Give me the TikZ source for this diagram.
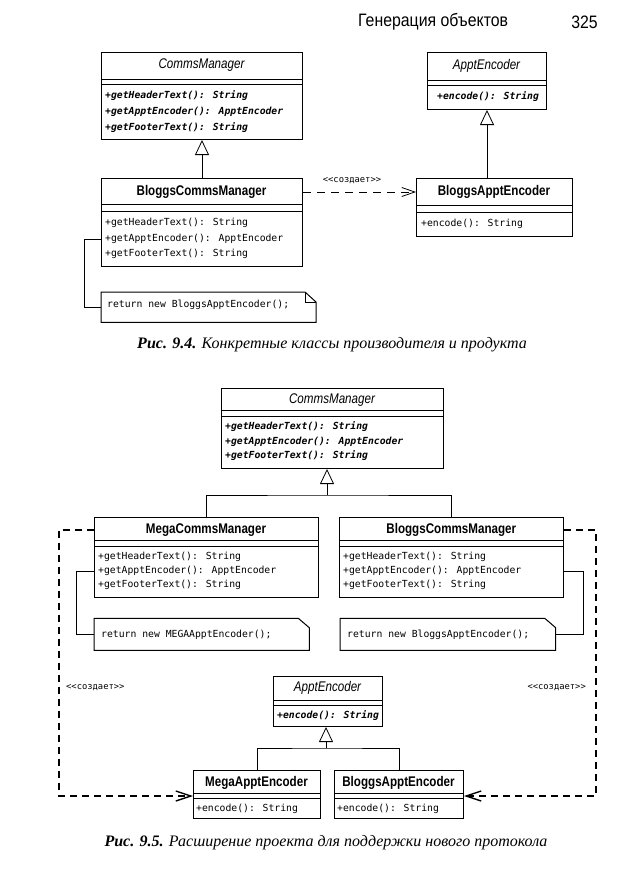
\documentclass[tikz,border=0pt]{standalone}
\usepackage{fontspec}
\setmainfont{Liberation Serif}
\newfontfamily\clsfont[FakeStretch=0.83]{Liberation Sans}
\newfontfamily\hdrfont[FakeStretch=0.88]{Liberation Sans}
\newfontfamily\codefont[Ligatures=TeXOff]{DejaVu Sans Mono}
\usetikzlibrary{arrows.meta}

\begin{document}
\begin{tikzpicture}[x=1pt,y=-1pt,
    clsbox/.style={draw,line width=1pt,inner sep=0pt,anchor=north west},
    notebox/.style={inner sep=0pt,anchor=north west},
    divline/.style={line width=1pt},
    cname/.style={inner sep=0pt,font=\clsfont\fontsize{14}{14}\selectfont\bfseries},
    aname/.style={inner sep=0pt,font=\clsfont\fontsize{14}{14}\selectfont\itshape},
    meth/.style={anchor=west,inner sep=0pt,font=\codefont\fontsize{9.75}{10}\selectfont},
    ameth/.style={meth,font=\codefont\fontsize{9.75}{10}\selectfont\bfseries\itshape},
    stereo/.style={inner sep=0pt,font=\codefont\fontsize{8.8}{9}\selectfont},
    inh/.style={line width=0.8pt,-{Triangle[open,length=15pt,width=14pt]}},
    dep/.style={line width=0.8pt,dash pattern=on 8pt off 6pt,-{Straight Barb[length=13pt,width=9pt]}},
    dep2/.style={line width=1.4pt,dash pattern=on 7pt off 5pt,-{Straight Barb[length=15pt,width=10pt]}},
    capt/.style={inner sep=0pt,font=\itshape\fontsize{16}{16}\selectfont}]
    \useasboundingbox (0,0) rectangle (639,891);
    \node[anchor=west,inner sep=0pt,font=\hdrfont\fontsize{18}{18}\selectfont] (pgtitle) at (358,22) {Генерация объектов};
    \node[anchor=east,inner sep=0pt,font=\hdrfont\fontsize{18}{18}\selectfont] (pgnum) at (598,22) {325};

    \node[clsbox,minimum width=201pt,minimum height=87pt] (cm) at (101,52) {};
    \draw[divline] (cm.north west) ++(0,27) -- ++(201,0) ++(-201,5) -- ++(201,0);
    \node[aname] (cmname) at (201.5,65.5) {CommsManager};
    \node[ameth] (cmm1) at (105,96) {+getHeaderText(): String};
    \node[ameth] (cmm2) at (105,112) {+getApptEncoder(): ApptEncoder};
    \node[ameth] (cmm3) at (105,128) {+getFooterText(): String};

    \node[clsbox,minimum width=119pt,minimum height=57pt] (ae) at (427,52) {};
    \draw[divline] (ae.north west) ++(0,28) -- ++(119,0) ++(-119,5) -- ++(119,0);
    \node[aname] (aename) at (486.5,66) {ApptEncoder};
    \node[ameth] (aem1) at (437,96.5) {+encode(): String};

    \node[clsbox,minimum width=201pt,minimum height=88pt] (bcm) at (101,178) {};
    \draw[divline] (bcm.north west) ++(0,26) -- ++(201,0) ++(-201,7.5) -- ++(201,0);
    \node[cname] (bcmname) at (201.5,192) {BloggsCommsManager};
    \node[meth] (bcmm1) at (105,223) {+getHeaderText(): String};
    \node[meth] (bcmm2) at (105,239) {+getApptEncoder(): ApptEncoder};
    \node[meth] (bcmm3) at (105,254) {+getFooterText(): String};

    \node[clsbox,minimum width=156pt,minimum height=58pt] (bae) at (416,178) {};
    \draw[divline] (bae.north west) ++(0,27) -- ++(156,0) ++(-156,7.5) -- ++(156,0);
    \node[cname] (baename) at (494,192) {BloggsApptEncoder};
    \node[meth] (baem1) at (421,224) {+encode(): String};

    \draw[inh] (bcm.north) -- (cm.south);
    \draw[inh] (bae.north -| ae.south) -- (ae.south);
    \draw[dep] (bcm.east |- bcmname) -- (bae.west |- bcmname);
    \node[stereo] (cr1) at (352,181) {<<создает>>};

    \node[notebox,minimum width=215pt,minimum height=30pt] (nt1) at (101,292) {};
    \draw[divline] (nt1.north west) -- ++(204,0) -- ++(11,10) |- (nt1.south west) -- cycle;
    \draw[line width=0.7pt] (nt1.north east) ++(-11,0) -- ++(0,10) -- ++(11,0);
    \node[meth] (nt1txt) at (107,305) {return new BloggsApptEncoder();};
    \draw[line width=1pt] (bcm.west |- bcmm2) -- ++(-17,0) |- (nt1.west);

    \node[capt] (cap1) at (332,345) {\textbf{Рис. 9.4.} Конкретные классы производителя и продукта};

    \node[clsbox,minimum width=222pt,minimum height=80pt] (cm2) at (221,388) {};
    \draw[divline] (cm2.north west) ++(0,22.7) -- ++(222,0) ++(-222,6) -- ++(222,0);
    \node[aname] (cm2name) at (332,400) {CommsManager};
    \node[ameth] (cm2m1) at (225,427) {+getHeaderText(): String};
    \node[ameth] (cm2m2) at (225,441.5) {+getApptEncoder(): ApptEncoder};
    \node[ameth] (cm2m3) at (225,455.7) {+getFooterText(): String};

    \node[clsbox,minimum width=224.3pt,minimum height=80.6pt] (mcm) at (94,516.7) {};
    \draw[divline] (mcm.north west) ++(0,24) -- ++(224.3,0) ++(-224.3,5.3) -- ++(224.3,0);
    \node[cname] (mcmname) at (206,530) {MegaCommsManager};
    \node[meth] (mcmm1) at (98,557) {+getHeaderText(): String};
    \node[meth] (mcmm2) at (98,571) {+getApptEncoder(): ApptEncoder};
    \node[meth] (mcmm3) at (98,585) {+getFooterText(): String};

    \node[clsbox,minimum width=224pt,minimum height=80.6pt] (bcm2) at (339.3,516.7) {};
    \draw[divline] (bcm2.north west) ++(0,24) -- ++(224,0) ++(-224,5.3) -- ++(224,0);
    \node[cname] (bcm2name) at (451.3,530) {BloggsCommsManager};
    \node[meth] (bcm2m1) at (343,557) {+getHeaderText(): String};
    \node[meth] (bcm2m2) at (343,571) {+getApptEncoder(): ApptEncoder};
    \node[meth] (bcm2m3) at (343,585) {+getFooterText(): String};

    \coordinate (fork1) at (327,495);
    \draw[inh] (fork1) -- (cm2.south -| fork1);
    \draw[line width=0.8pt] (mcm.north) |- (fork1) -| (bcm2.north);

    \node[notebox,minimum width=215.3pt,minimum height=31.7pt] (nt2) at (94,618.3) {};
    \draw[divline] (nt2.north west) -- ++(204.3,0) -- ++(11,9.4) |- (nt2.south west) -- cycle;
    \node[meth] (nt2txt) at (101,635) {return new MEGAApptEncoder();};
    \draw[line width=1pt] (mcm.west |- mcmm2) -- ++(-18,0) |- (nt2.west);

    \node[notebox,minimum width=215.7pt,minimum height=31.7pt] (nt3) at (340,618.3) {};
    \draw[divline] (nt3.north west) -- ++(204.7,0) -- ++(11,9.4) |- (nt3.south west) -- cycle;
    \node[meth] (nt3txt) at (347,635) {return new BloggsApptEncoder();};
    \draw[line width=1pt] (bcm2.east |- bcm2m2) -- ++(19,0) |- (nt3.east);

    \node[clsbox,minimum width=109pt,minimum height=50pt] (ae2) at (273,676) {};
    \draw[divline] (ae2.north west) ++(0,24) -- ++(109,0) ++(-109,5.7) -- ++(109,0);
    \node[aname] (ae2name) at (327.5,688) {ApptEncoder};
    \node[ameth] (ae2m1) at (277,716) {+encode(): String};

    \node[clsbox,minimum width=127pt,minimum height=47.7pt] (mae) at (193,770) {};
    \draw[divline] (mae.north west) ++(0,23.3) -- ++(127,0) ++(-127,5) -- ++(127,0);
    \node[cname] (maename) at (256.5,783) {MegaApptEncoder};
    \node[meth] (maem1) at (196,809) {+encode(): String};

    \node[clsbox,minimum width=129pt,minimum height=47.7pt] (bae2) at (334,770) {};
    \draw[divline] (bae2.north west) ++(0,23.3) -- ++(129,0) ++(-129,5) -- ++(129,0);
    \node[cname] (bae2name) at (398.5,783) {BloggsApptEncoder};
    \node[meth] (bae2m1) at (337,809) {+encode(): String};

    \coordinate (fork2) at (326,748);
    \draw[inh] (fork2) -- (ae2.south -| fork2);
    \draw[line width=0.8pt] (mae.north) |- (fork2) -| (bae2.north);

    \coordinate (dl) at (59,796);
    \coordinate (dr) at (596,796);
    \draw[dep2] (mcm.west |- mcmname) -| (dl) -- (mae.west |- dl);
    \draw[dep2] (bcm2.east |- bcm2name) -| (dr) -- (bae2.east |- dr);
    \node[stereo,anchor=west] (cr2) at (66,688) {<<создает>>};
    \node[stereo,anchor=east] (cr3) at (586,688) {<<создает>>};

    \node[capt] (cap2) at (326,843) {\textbf{Рис. 9.5.} Расширение проекта для поддержки нового протокола};
\end{tikzpicture}
\end{document}
